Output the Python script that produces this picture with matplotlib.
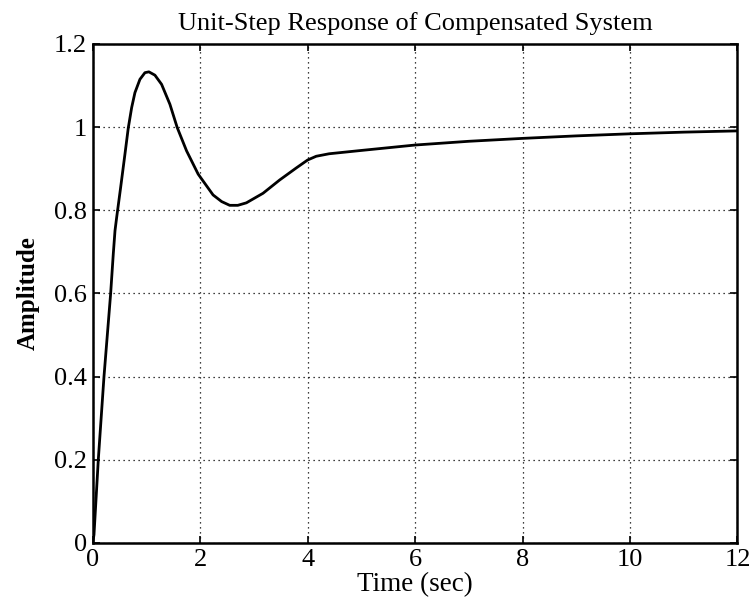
import matplotlib
matplotlib.use("Agg")
import matplotlib.pyplot as plt

# step response
t = [0.0, 0.024, 0.104, 0.21, 0.334, 0.383, 0.415, 0.446, 0.52, 0.60, 0.662,
     0.725, 0.786, 0.879, 0.972, 1.046, 1.158, 1.282, 1.437, 1.573, 1.747, 1.963,
     2.24, 2.40, 2.55, 2.70, 2.86, 3.17, 3.48, 3.79, 4.0, 4.16, 4.4, 4.7, 5.0,
     6.0, 7.0, 8.0, 9.0, 10.0, 11.0, 12.0]
amp = [0.0, 0.02, 0.2, 0.4, 0.6, 0.695, 0.751, 0.783, 0.855, 0.935, 0.998,
       1.047, 1.083, 1.115, 1.131, 1.133, 1.125, 1.103, 1.055, 0.999, 0.943, 0.887,
       0.837, 0.821, 0.812, 0.812, 0.818, 0.841, 0.873, 0.902, 0.921, 0.930, 0.936,
       0.940, 0.944, 0.957, 0.966, 0.973, 0.979, 0.984, 0.988, 0.991]

xticks = [0, 2, 4, 6, 8, 10, 12]
yticks = [0, 0.2, 0.4, 0.6, 0.8, 1.0, 1.2]
ytick_labels = ["0", "0.2", "0.4", "0.6", "0.8", "1", "1.2"]

plt.rcParams['font.family'] = ['Liberation Serif', 'DejaVu Serif']

fig = plt.figure(figsize=(7.5, 6.05), dpi=100)
ax = fig.add_axes([0.1236, 0.1025, 0.8597, 0.8248])

ax.plot(t, amp, color="black", lw=2.0, solid_joinstyle="round")

ax.set_xlim(0, 12)
ax.set_ylim(0, 1.2)
ax.set_xticks(xticks)
ax.set_yticks(yticks)
ax.set_yticklabels(ytick_labels)
ax.grid(True, linestyle=(0, (1, 3)), color="black", lw=0.9)
ax.tick_params(direction="in", top=True, right=True, length=5, width=1.2,
               labelsize=19, pad=4)
for s in ax.spines.values():
    s.set_linewidth(1.8)

ax.set_title("Unit-Step Response of Compensated System", fontsize=19, pad=10)
ax.set_xlabel("Time (sec)", fontsize=19.5, labelpad=1)
ax.set_ylabel("Amplitude", fontsize=18, fontweight="bold", labelpad=10)

fig.savefig("out.png", dpi=100)
